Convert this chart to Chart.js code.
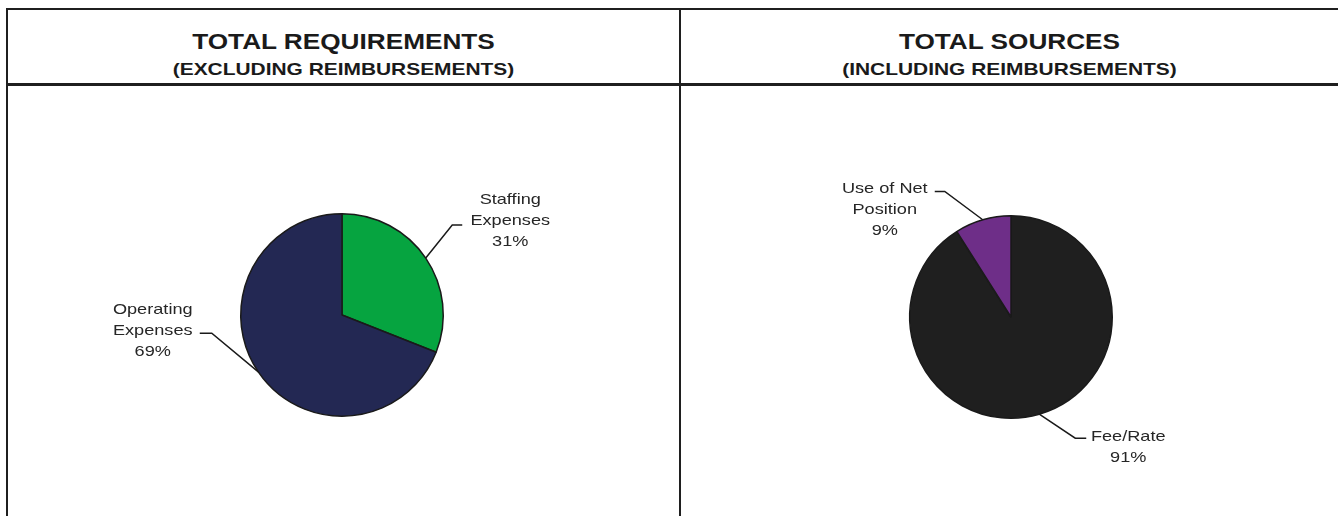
<!DOCTYPE html>
<html>
<head>
<meta charset="utf-8">
<script src="https://cdn.jsdelivr.net/npm/chart.js@4.4.1/dist/chart.umd.min.js"></script>
<style>
  html, body { margin: 0; padding: 0; background: #ffffff; }
  #wrap { position: relative; width: 1338px; height: 516px; overflow: hidden; background: #fff; }
  .rule { position: absolute; background: #1f1f1f; }
  .hdr { position: absolute; text-align: center; color: #1a1a1a; font-family: "Liberation Sans", Arial, sans-serif; font-weight: bold; white-space: nowrap; }
  .t1 { font-size: 22px; line-height: 22px; transform: scaleX(1.19); }
  .t2 { font-size: 17px; line-height: 17px; transform: scaleX(1.23); }
  canvas { position: absolute; }
</style>
</head>
<body>
<div id="wrap">
  <div class="rule" style="left:6px;top:8px;width:1332px;height:2px;"></div>
  <div class="rule" style="left:6px;top:8px;width:2px;height:508px;"></div>
  <div class="rule" style="left:6px;top:83px;width:1332px;height:3px;"></div>
  <div class="rule" style="left:679px;top:8px;width:2px;height:508px;"></div>

  <div class="hdr t1" style="left:8px;width:671px;top:31px;">TOTAL REQUIREMENTS</div>
  <div class="hdr t2" style="left:8px;width:671px;top:61px;">(EXCLUDING REIMBURSEMENTS)</div>
  <div class="hdr t1" style="left:681px;width:657px;top:31px;">TOTAL SOURCES</div>
  <div class="hdr t2" style="left:681px;width:657px;top:61px;">(INCLUDING REIMBURSEMENTS)</div>

  <canvas id="c1" width="671" height="430" style="left:8px;top:86px;"></canvas>
  <canvas id="c2" width="657" height="430" style="left:681px;top:86px;"></canvas>
</div>
<script>
// ---- data ----
const reqCategories = [["Staffing", "Expenses"], ["Operating", "Expenses"]];
const reqValues = [31, 69];
const reqColors = ["#06a440", "#232853"];

const srcCategories = [["Fee/Rate"], ["Use of Net", "Position"]];
const srcValues = [91, 9];
const srcColors = ["#1f1f1f", "#6e2e88"];

// ---- outer label plugin with leader lines ----
const outerLabels = {
  id: 'outerLabels',
  afterDatasetsDraw(chart, args, opts) {
    const ctx = chart.ctx;
    const meta = chart.getDatasetMeta(0);
    const data = chart.data.datasets[0].data;
    const total = data.reduce((a, b) => a + b, 0);
    meta.data.forEach((arc, i) => {
      const L = opts.layout[i];
      const p = arc.getProps(['x', 'y', 'startAngle', 'endAngle', 'outerRadius'], true);
      const mid = (p.startAngle + p.endAngle) / 2;
      const ax = p.x + Math.cos(mid) * p.outerRadius;
      const ay = p.y + Math.sin(mid) * p.outerRadius;
      const ex = ax + L.elbow[0], ey = ay + L.elbow[1];
      const hx = ex + L.run;
      ctx.save();
      ctx.strokeStyle = '#1a1a1a';
      ctx.lineWidth = 1.5;
      ctx.beginPath();
      ctx.moveTo(ax, ay);
      ctx.lineTo(ex, ey);
      ctx.lineTo(hx, ey);
      ctx.stroke();
      const lines = [].concat(chart.data.labels[i], Math.round(data[i] / total * 100) + '%');
      ctx.font = '15px "Liberation Sans", Arial, sans-serif';
      ctx.fillStyle = '#262626';
      ctx.textAlign = 'center';
      ctx.textBaseline = 'alphabetic';
      const tx = hx + L.text[0];
      const ty = ey + L.text[1];
      lines.forEach((s, k) => {
        ctx.save();
        ctx.translate(tx, ty + k * 21);
        ctx.scale(1.21, 1);
        ctx.fillText(s, 0, 0);
        ctx.restore();
      });
      ctx.restore();
    });
  }
};

function makePie(id, labels, values, colors, padding, layout) {
  return new Chart(document.getElementById(id), {
    type: 'pie',
    data: {
      labels: labels,
      datasets: [{
        data: values,
        backgroundColor: colors,
        borderColor: '#1a1a1a',
        borderWidth: 1.5
      }]
    },
    options: {
      responsive: false,
      animation: false,
      layout: { padding: padding },
      plugins: {
        legend: { display: false },
        tooltip: { enabled: false },
        outerLabels: { layout: layout }
      }
    },
    plugins: [outerLabels]
  });
}

makePie('c1', reqCategories, reqValues, reqColors,
  { left: 0, right: 3, top: 127, bottom: 99 },
  [
    { elbow: [26.5, -33], run: 10, text: [48, -21] },
    { elbow: [-46.5, -38.7], run: -12, text: [-47, -19] }
  ]);

makePie('c2', srcCategories, srcValues, srcColors,
  { left: 3, right: 0, top: 129, bottom: 97 },
  [
    { elbow: [36, 24], run: 11, text: [42, 2.5] },
    { elbow: [-38, -28.3], run: -10, text: [-50, 1.3] }
  ]);
</script>
</body>
</html>
